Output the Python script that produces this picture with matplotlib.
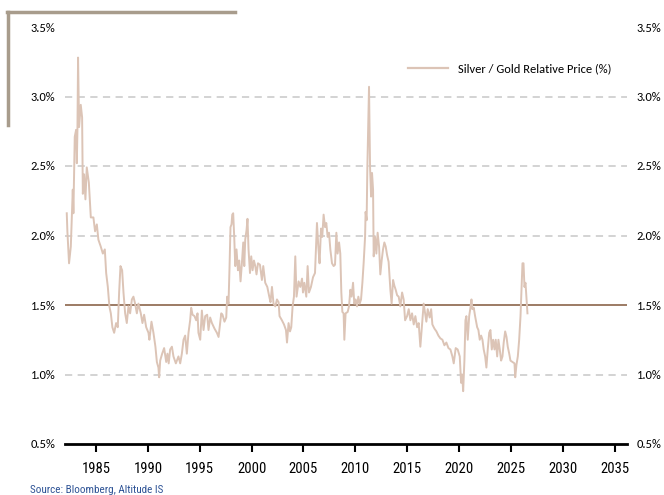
import matplotlib
matplotlib.use("Agg")
import matplotlib.pyplot as plt
from matplotlib.lines import Line2D
from matplotlib import font_manager

def pick(*names):
    avail = {f.name for f in font_manager.fontManager.ttflist}
    for n in names:
        if n in avail:
            return n
    return "DejaVu Sans"

MAIN_FONT = pick("Carlito", "Lato", "Open Sans")
NARROW_FONT = pick("Liberation Sans Narrow", "Roboto Condensed", "Roboto")

years = [1982.17, 1982.23, 1982.39, 1982.56, 1982.75, 1982.81, 1982.94, 1983.07, 1983.14, 1983.20,
         1983.26, 1983.36, 1983.52, 1983.65, 1983.72, 1983.84, 1983.97, 1984.10, 1984.30, 1984.49,
         1984.74, 1984.90, 1985.07, 1985.22, 1985.45, 1985.65, 1985.84, 1985.97, 1986.13, 1986.28,
         1986.42, 1986.57, 1986.74, 1986.93, 1987.09, 1987.22, 1987.35, 1987.51, 1987.64, 1987.80,
         1987.96, 1988.12, 1988.28, 1988.45, 1988.60, 1988.76, 1988.93, 1989.08, 1989.31, 1989.47,
         1989.63, 1989.83, 1990.05, 1990.14, 1990.34, 1990.53, 1990.72, 1990.86, 1991.01, 1991.08,
         1991.18, 1991.37, 1991.56, 1991.76, 1991.88, 1992.00, 1992.14, 1992.31, 1992.46, 1992.69,
         1992.94, 1993.11, 1993.27, 1993.43, 1993.59, 1993.75, 1993.91, 1994.07, 1994.17, 1994.30,
         1994.49, 1994.65, 1994.78, 1994.87, 1995.04, 1995.20, 1995.36, 1995.52, 1995.71, 1995.84,
         1996.00, 1996.17, 1996.42, 1996.65, 1996.81, 1997.07, 1997.19, 1997.38, 1997.55, 1997.64,
         1997.77, 1997.87, 1997.96, 1998.06, 1998.13, 1998.22, 1998.32, 1998.42, 1998.54, 1998.68,
         1998.80, 1998.93, 1999.06, 1999.19, 1999.29, 1999.38, 1999.51, 1999.60, 1999.70, 1999.84,
         1999.96, 2000.09, 2000.22, 2000.35, 2000.47, 2000.61, 2000.80, 2000.99, 2001.12, 2001.31,
         2001.51, 2001.70, 2001.82, 2001.96, 2002.11, 2002.28, 2002.44, 2002.60, 2002.69, 2002.92,
         2003.12, 2003.31, 2003.41, 2003.56, 2003.70, 2003.82, 2003.95, 2004.08, 2004.21, 2004.33,
         2004.53, 2004.69, 2004.86, 2004.95, 2005.08, 2005.27, 2005.40, 2005.53, 2005.72, 2005.92,
         2006.11, 2006.24, 2006.30, 2006.43, 2006.55, 2006.69, 2006.81, 2006.94, 2007.08, 2007.20,
         2007.33, 2007.46, 2007.59, 2007.75, 2007.91, 2008.04, 2008.17, 2008.29, 2008.43, 2008.55,
         2008.65, 2008.75, 2008.87, 2008.94, 2009.06, 2009.26, 2009.39, 2009.52, 2009.64, 2009.78,
         2009.90, 2010.03, 2010.16, 2010.29, 2010.42, 2010.55, 2010.68, 2010.80, 2010.94, 2010.99,
         2011.09, 2011.16, 2011.25, 2011.32, 2011.42, 2011.52, 2011.61, 2011.71, 2011.77, 2011.90,
         2012.03, 2012.15, 2012.29, 2012.41, 2012.54, 2012.67, 2012.80, 2012.93, 2013.06, 2013.21,
         2013.38, 2013.50, 2013.64, 2013.76, 2013.89, 2014.03, 2014.18, 2014.34, 2014.51, 2014.66,
         2014.80, 2014.99, 2015.15, 2015.31, 2015.47, 2015.63, 2015.79, 2015.96, 2016.11, 2016.27,
         2016.59, 2016.73, 2016.85, 2016.98, 2017.17, 2017.31, 2017.43, 2017.63, 2017.82, 2018.01,
         2018.20, 2018.40, 2018.59, 2018.78, 2018.98, 2019.17, 2019.36, 2019.49, 2019.68, 2019.87,
         2020.07, 2020.20, 2020.30, 2020.40, 2020.52, 2020.62, 2020.71, 2020.84, 2020.98, 2021.10,
         2021.20, 2021.29, 2021.42, 2021.55, 2021.75, 2021.87, 2022.00, 2022.13, 2022.26, 2022.38,
         2022.52, 2022.64, 2022.77, 2022.91, 2023.03, 2023.16, 2023.29, 2023.42, 2023.54, 2023.68,
         2023.80, 2023.93, 2024.06, 2024.19, 2024.31, 2024.45, 2024.58, 2024.70, 2024.84, 2024.96,
         2025.15, 2025.35, 2025.42, 2025.54, 2025.67, 2025.80, 2025.93, 2026.02, 2026.12, 2026.22,
         2026.31, 2026.41, 2026.51, 2026.60]

ratio_pct = [2.16, 2.03, 1.80, 1.92, 2.33, 2.16, 2.71, 2.76, 2.52, 2.76,
             3.28, 2.78, 2.94, 2.85, 2.30, 2.44, 2.26, 2.49, 2.38, 2.13,
             2.13, 2.03, 2.08, 1.97, 1.92, 1.87, 1.90, 1.73, 1.63, 1.49,
             1.44, 1.34, 1.30, 1.37, 1.34, 1.59, 1.78, 1.75, 1.59, 1.44,
             1.37, 1.49, 1.44, 1.54, 1.56, 1.51, 1.44, 1.51, 1.44, 1.37,
             1.43, 1.34, 1.30, 1.25, 1.38, 1.30, 1.20, 1.09, 1.05, 0.98,
             1.10, 1.15, 1.19, 1.09, 1.15, 1.08, 1.18, 1.20, 1.13, 1.08,
             1.13, 1.08, 1.15, 1.25, 1.28, 1.15, 1.30, 1.39, 1.48, 1.43,
             1.42, 1.39, 1.44, 1.30, 1.25, 1.46, 1.32, 1.42, 1.43, 1.32,
             1.41, 1.37, 1.33, 1.30, 1.27, 1.44, 1.43, 1.38, 1.41, 1.56,
             1.51, 1.78, 2.06, 2.08, 2.15, 2.16, 1.99, 1.78, 1.90, 1.75,
             1.82, 1.67, 1.80, 1.95, 1.78, 1.97, 2.04, 2.12, 1.90, 1.73,
             1.85, 1.75, 1.82, 1.78, 1.72, 1.80, 1.79, 1.68, 1.78, 1.66,
             1.63, 1.56, 1.52, 1.63, 1.51, 1.49, 1.54, 1.52, 1.42, 1.39,
             1.36, 1.32, 1.23, 1.37, 1.31, 1.34, 1.49, 1.56, 1.85, 1.56,
             1.67, 1.63, 1.69, 1.59, 1.66, 1.56, 1.78, 1.59, 1.63, 1.70,
             1.73, 1.97, 2.09, 1.92, 1.80, 2.05, 1.99, 2.15, 2.06, 2.09,
             1.99, 2.02, 1.90, 1.80, 1.78, 1.79, 2.02, 1.87, 1.95, 1.87,
             1.59, 1.45, 1.44, 1.25, 1.44, 1.45, 1.49, 1.61, 1.56, 1.66,
             1.51, 1.54, 1.49, 1.56, 1.51, 1.54, 1.66, 1.80, 1.99, 2.17,
             2.11, 2.49, 2.83, 3.07, 2.49, 2.28, 2.45, 2.33, 1.85, 1.99,
             1.87, 2.02, 1.92, 1.72, 1.82, 1.90, 1.95, 1.92, 1.86, 1.81,
             1.61, 1.51, 1.68, 1.64, 1.61, 1.57, 1.56, 1.49, 1.59, 1.54,
             1.39, 1.42, 1.47, 1.39, 1.44, 1.36, 1.42, 1.34, 1.37, 1.20,
             1.51, 1.44, 1.38, 1.47, 1.41, 1.47, 1.36, 1.33, 1.31, 1.28,
             1.26, 1.25, 1.21, 1.23, 1.19, 1.18, 1.13, 1.08, 1.19, 1.18,
             1.13, 0.94, 1.00, 0.88, 1.10, 1.39, 1.42, 1.25, 1.42, 1.48,
             1.54, 1.47, 1.48, 1.42, 1.34, 1.32, 1.25, 1.28, 1.25, 1.18,
             1.13, 1.05, 1.18, 1.30, 1.32, 1.18, 1.25, 1.18, 1.25, 1.13,
             1.25, 1.18, 1.10, 1.13, 1.23, 1.31, 1.27, 1.20, 1.15, 1.10,
             1.09, 1.08, 0.98, 1.07, 1.13, 1.25, 1.42, 1.61, 1.80, 1.80,
             1.63, 1.66, 1.54, 1.44]

reference_level = 1.5
y_ticks = [0.5, 1.0, 1.5, 2.0, 2.5, 3.0, 3.5]
grid_levels = [1.0, 2.0, 2.5, 3.0]
x_ticks = [1985, 1990, 1995, 2000, 2005, 2010, 2015, 2020, 2025, 2030, 2035]
series_label = "Silver / Gold Relative Price (%)"
source_text = "Source: Bloomberg, Altitude IS"

LINE_C = "#dcc4b6"
REF_C = "#9c7b64"
GRID_C = "#d0d0d0"
DECO_C = "#a89c8c"

fig = plt.figure(figsize=(6.64, 4.95), dpi=100)
ax = fig.add_axes([65/664, 1 - 444/495, (627-65)/664, (444-27)/495])

ax.set_xlim(1982.0, 2036.2)
ax.set_ylim(0.5, 3.5)

for g in grid_levels:
    ax.axhline(g, color=GRID_C, lw=1.3, ls=(0, (4, 3)), zorder=1)
ax.axhline(reference_level, color=REF_C, lw=1.4, zorder=2)
ax.plot(years, ratio_pct, color=LINE_C, lw=1.4, zorder=3)

for s in ["top", "left", "right"]:
    ax.spines[s].set_visible(False)
ax.spines["bottom"].set_linewidth(2.0)
ax.spines["bottom"].set_color("black")

ax.set_xticks(x_ticks)
ax.set_xticklabels([str(t) for t in x_ticks], fontfamily=NARROW_FONT, fontsize=10.5)
ax.tick_params(axis="x", direction="out", length=6, width=1.5, color="black", pad=7)

ax.set_yticks(y_ticks)
ax.set_yticklabels([f"{t:.1f}%" for t in y_ticks], fontfamily=MAIN_FONT, fontsize=9)
ax.tick_params(axis="y", length=0, pad=7, left=False, right=False,
               labelleft=True, labelright=True)

handle = Line2D([0], [0], color=LINE_C, lw=1.6)
ax.legend([handle], [series_label], loc="upper left", bbox_to_anchor=(0.59, 0.94),
          frameon=False, prop={"family": MAIN_FONT, "size": 9},
          handlelength=3.2, handletextpad=0.8)

fig.lines.append(Line2D([7/664, 235/664], [1 - 12/495, 1 - 12/495], color=DECO_C, lw=2.5,
                        transform=fig.transFigure))
fig.lines.append(Line2D([8/664, 8/664], [1 - 12/495, 1 - 125/495], color=DECO_C, lw=2.5,
                        transform=fig.transFigure))

fig.text(30/664, 1 - 490/495, source_text, fontsize=8, color="#2f5496",
         fontfamily=NARROW_FONT, va="center", ha="left")

fig.savefig("out.png", dpi=100)
